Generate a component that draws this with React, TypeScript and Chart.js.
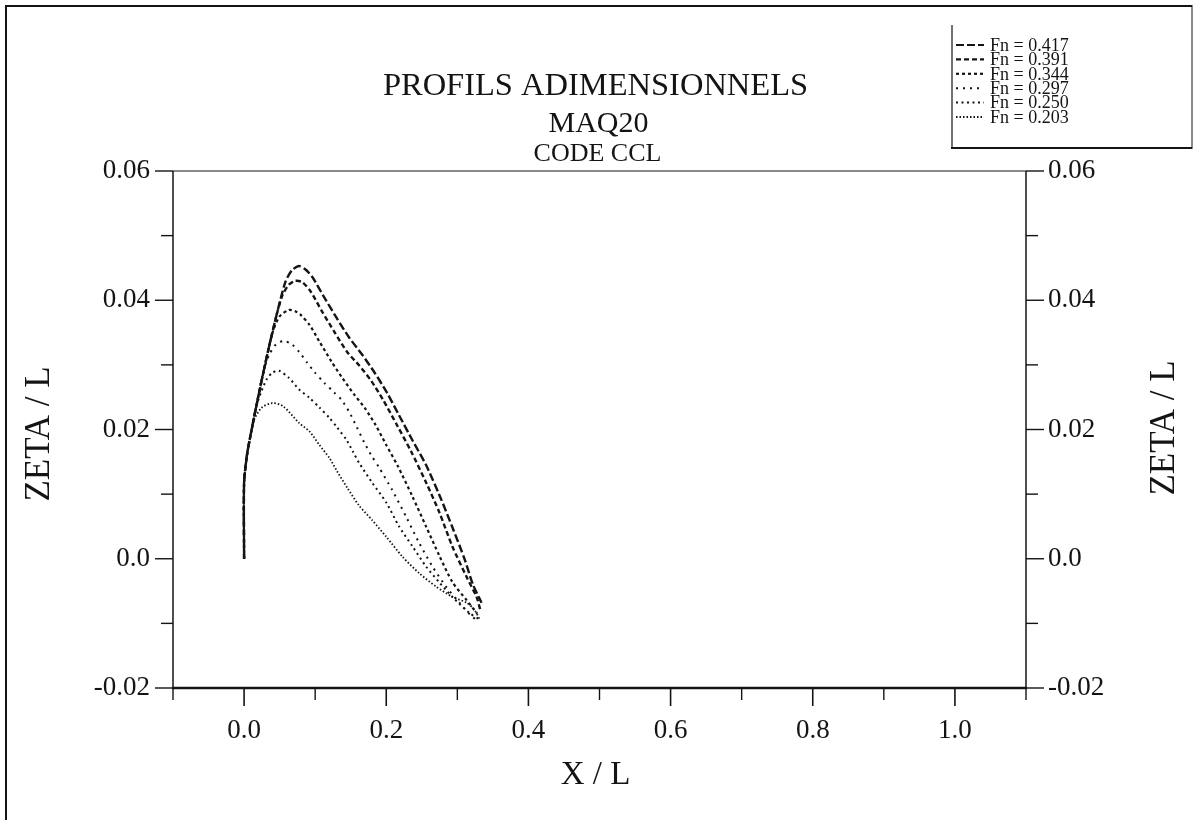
import React, { useEffect, useRef } from 'react';
import { Chart, registerables } from 'chart.js';

Chart.register(...registerables);

const W = 1196;
const H = 820;
const SERIF = '"Liberation Serif", "Times New Roman", serif';
const INK = '#141414';

// ---- texts ----
const chartTitle = 'PROFILS ADIMENSIONNELS';
const chartSubtitles = ['MAQ20', 'CODE CCL'];
const xAxisLabel = 'X / L';
const yAxisLabel = 'ZETA / L';
const seriesLabels = ['Fn = 0.417', 'Fn = 0.391', 'Fn = 0.344', 'Fn = 0.297', 'Fn = 0.250', 'Fn = 0.203'];

// ---- ticks ----
const xMajorTicks = [0, 0.2, 0.4, 0.6, 0.8, 1.0];
const xTickLabels = ['0.0', '0.2', '0.4', '0.6', '0.8', '1.0'];
const xMinorTicks = [-0.1, 0.1, 0.3, 0.5, 0.7, 0.9, 1.1];
const yMajorTicks = [-0.02, 0, 0.02, 0.04, 0.06];
const yTickLabels = ['-0.02', '0.0', '0.02', '0.04', '0.06'];
const yMinorTicks = [-0.01, 0.01, 0.03, 0.05];

// ---- series (X/L , ZETA/L) ----
const fn417X = [0, 0, 0.004, 0.008, 0.017, 0.031, 0.045, 0.058, 0.067, 0.077, 0.086, 0.096, 0.113, 0.130, 0.148, 0.166, 0.183, 0.201, 0.218, 0.237, 0.256, 0.275, 0.294, 0.310, 0.322, 0.334];
const fn417Y = [0, 0.0118, 0.0160, 0.0185, 0.0235, 0.0308, 0.0374, 0.0428, 0.0446, 0.0453, 0.0448, 0.0436, 0.0404, 0.0373, 0.0342, 0.0316, 0.0289, 0.0257, 0.0222, 0.0183, 0.0145, 0.0098, 0.0046, 0.0000, -0.0040, -0.0068];

const fn391X = [0, 0, 0.004, 0.008, 0.017, 0.031, 0.045, 0.054, 0.063, 0.072, 0.082, 0.094, 0.110, 0.127, 0.145, 0.162, 0.179, 0.196, 0.216, 0.235, 0.256, 0.275, 0.293, 0.313, 0.327, 0.332];
const fn391Y = [0, 0.0118, 0.0160, 0.0185, 0.0235, 0.0308, 0.0374, 0.0408, 0.0424, 0.0430, 0.0428, 0.0413, 0.0382, 0.0351, 0.0320, 0.0299, 0.0275, 0.0245, 0.0205, 0.0166, 0.0118, 0.0071, 0.0019, -0.0028, -0.0059, -0.0078];

const fn344X = [0, 0, 0.004, 0.008, 0.017, 0.031, 0.040, 0.050, 0.063, 0.072, 0.080, 0.092, 0.106, 0.123, 0.138, 0.155, 0.170, 0.185, 0.200, 0.216, 0.237, 0.256, 0.275, 0.293, 0.313, 0.328];
const fn344Y = [0, 0.0118, 0.0160, 0.0185, 0.0235, 0.0308, 0.0350, 0.0375, 0.0385, 0.0383, 0.0377, 0.0362, 0.0336, 0.0305, 0.0280, 0.0254, 0.0233, 0.0207, 0.0176, 0.0144, 0.0096, 0.0050, 0.0004, -0.0036, -0.0064, -0.0085];

const fn297X = [0, 0, 0.004, 0.008, 0.017, 0.026, 0.035, 0.045, 0.056, 0.067, 0.0775, 0.089, 0.099, 0.113, 0.127, 0.137, 0.148, 0.158, 0.169, 0.179, 0.190, 0.208, 0.228, 0.246, 0.265, 0.284, 0.303, 0.321, 0.330];
const fn297Y = [0, 0.0118, 0.0160, 0.0185, 0.0235, 0.0285, 0.0315, 0.0332, 0.0337, 0.0332, 0.0320, 0.0303, 0.0289, 0.0272, 0.0257, 0.0246, 0.0227, 0.0205, 0.0180, 0.0160, 0.0141, 0.0107, 0.0065, 0.0025, -0.0012, -0.0043, -0.0068, -0.0090, -0.0095];

const fn250X = [0, 0, 0.004, 0.008, 0.017, 0.024, 0.032, 0.040, 0.049, 0.063, 0.0775, 0.092, 0.106, 0.120, 0.131, 0.144, 0.153, 0.162, 0.180, 0.200, 0.218, 0.237, 0.256, 0.275, 0.293, 0.317, 0.330];
const fn250Y = [0, 0.0118, 0.0160, 0.0185, 0.0235, 0.0258, 0.0278, 0.0288, 0.0291, 0.0280, 0.0262, 0.0249, 0.0234, 0.0218, 0.0203, 0.0184, 0.0166, 0.0148, 0.0118, 0.0087, 0.0050, 0.0019, -0.0012, -0.0037, -0.0059, -0.0084, -0.0093];

const fn203X = [0, 0, 0.004, 0.008, 0.014, 0.025, 0.040, 0.055, 0.0775, 0.092, 0.106, 0.120, 0.131, 0.145, 0.162, 0.180, 0.200, 0.223, 0.246, 0.270, 0.293, 0.313, 0.324, 0.332];
const fn203Y = [0, 0.0118, 0.0160, 0.0185, 0.0215, 0.0234, 0.0241, 0.0236, 0.0210, 0.0197, 0.0176, 0.0156, 0.0135, 0.0110, 0.0082, 0.0060, 0.0034, 0.0003, -0.0022, -0.0043, -0.0059, -0.0068, -0.0079, -0.0095];

const seriesX = [fn417X, fn391X, fn344X, fn297X, fn250X, fn203X];
const seriesY = [fn417Y, fn391Y, fn344Y, fn297Y, fn250Y, fn203Y];
const seriesDash = [[8, 3], [5, 3], [3, 3], [2, 5], [2, 3.5], [1.5, 2]];
const seriesWidth = [2.4, 2.4, 2.2, 2, 2, 1.8];

function line(ctx: CanvasRenderingContext2D, x1: number, y1: number, x2: number, y2: number, w: number) {
  ctx.lineWidth = w;
  ctx.beginPath();
  ctx.moveTo(x1, y1);
  ctx.lineTo(x2, y2);
  ctx.stroke();
}

const decorPlugin = {
  id: 'decor',
  afterDraw(chart: any) {
    const ctx: CanvasRenderingContext2D = chart.ctx;
    const { left, right, top, bottom } = chart.chartArea;
    const xs = chart.scales.x;
    const ys = chart.scales.y;
    ctx.save();
    ctx.strokeStyle = INK;
    ctx.fillStyle = INK;
    ctx.setLineDash([]);
    ctx.lineCap = 'butt';

    // plot frame
    line(ctx, left, top, right, top, 1.2);
    line(ctx, left, top, left, bottom, 1.5);
    line(ctx, right, top, right, bottom, 1.5);
    line(ctx, left - 1, bottom, right + 1, bottom, 2.4);

    // x ticks (outward)
    xMajorTicks.forEach((v) => {
      const p = xs.getPixelForValue(v);
      line(ctx, p, bottom, p, bottom + 18, 1.6);
    });
    xMinorTicks.forEach((v) => {
      const p = xs.getPixelForValue(v);
      line(ctx, p, bottom, p, bottom + 12, 1.4);
    });
    // y ticks (outward both sides)
    yMajorTicks.forEach((v) => {
      const p = ys.getPixelForValue(v);
      line(ctx, left - 18, p, left, p, 1.4);
      line(ctx, right, p, right + 18, p, 1.4);
    });
    yMinorTicks.forEach((v) => {
      const p = ys.getPixelForValue(v);
      line(ctx, left - 12, p, left, p, 1.4);
      line(ctx, right, p, right + 12, p, 1.4);
    });

    // titles
    ctx.textAlign = 'center';
    ctx.textBaseline = 'alphabetic';
    const cx = (left + right) / 2;
    ctx.font = `32.5px ${SERIF}`;
    ctx.fillText(chartTitle, cx - 4, 95);
    ctx.font = `30px ${SERIF}`;
    ctx.fillText(chartSubtitles[0], cx - 1, 132);
    ctx.font = `26px ${SERIF}`;
    ctx.fillText(chartSubtitles[1], cx - 2, 161);

    // axis labels
    ctx.textBaseline = 'middle';
    ctx.font = `33px ${SERIF}`;
    ctx.fillText(xAxisLabel, cx - 4, 775);
    ctx.font = `35px ${SERIF}`;
    ctx.save();
    ctx.translate(40, 434);
    ctx.rotate(-Math.PI / 2);
    ctx.fillText(yAxisLabel, 0, 0);
    ctx.restore();
    ctx.save();
    ctx.translate(1165, 428);
    ctx.rotate(-Math.PI / 2);
    ctx.fillText(yAxisLabel, 0, 0);
    ctx.restore();

    // outer frame
    line(ctx, 6, 6, 1192, 6, 2);
    line(ctx, 6, 5, 6, H, 2);
    // legend box
    line(ctx, 952, 25, 952, 149, 1.2);
    line(ctx, 951, 148, 1192, 148, 2);
    line(ctx, 1192, 5, 1192, 149, 1);

    // legend entries
    ctx.textAlign = 'left';
    ctx.textBaseline = 'middle';
    ctx.font = `18px ${SERIF}`;
    chart.data.datasets.forEach((ds: any, i: number) => {
      const yy = 45 + i * 14.4;
      ctx.setLineDash(ds.borderDash);
      line(ctx, 956, yy, 984, yy, Math.min(ds.borderWidth, 2.2));
      ctx.setLineDash([]);
      ctx.fillText(ds.label, 990, yy + 1);
    });
    ctx.restore();
  },
};

export default function App() {
  const ref = useRef<HTMLCanvasElement | null>(null);

  useEffect(() => {
    if (!ref.current) return;
    const datasets = seriesLabels.map((label, i) => ({
      label,
      data: seriesX[i].map((x, j) => ({ x, y: seriesY[i][j] })),
      showLine: true,
      borderColor: INK,
      backgroundColor: INK,
      borderWidth: seriesWidth[i],
      borderDash: seriesDash[i],
      pointRadius: 0,
      tension: 0.25,
      fill: false,
    }));

    const chart = new Chart(ref.current, {
      type: 'scatter',
      data: { datasets },
      options: {
        responsive: false,
        maintainAspectRatio: false,
        devicePixelRatio: 1,
        animation: false,
        layout: { padding: { top: 171, left: 0, right: 0, bottom: 0 } },
        plugins: {
          legend: { display: false },
          title: { display: false },
          tooltip: { enabled: false },
        },
        scales: {
          x: {
            type: 'linear',
            position: 'bottom',
            min: -0.1,
            max: 1.1,
            afterFit: (s: any) => { s.height = H - 688; },
            afterBuildTicks: (s: any) => { s.ticks = xMajorTicks.map((v) => ({ value: v })); },
            grid: { display: false, drawTicks: false },
            border: { display: false },
            ticks: {
              padding: 27,
              color: INK,
              font: { family: SERIF, size: 27 },
              maxRotation: 0,
              autoSkip: false,
              callback: (_v: any, i: number) => xTickLabels[i],
            },
          },
          y: {
            type: 'linear',
            position: 'left',
            min: -0.02,
            max: 0.06,
            afterFit: (s: any) => { s.width = 173; },
            afterBuildTicks: (s: any) => { s.ticks = yMajorTicks.map((v) => ({ value: v })); },
            grid: { display: false, drawTicks: false },
            border: { display: false },
            ticks: {
              padding: 23,
              color: INK,
              font: { family: SERIF, size: 27 },
              autoSkip: false,
              callback: (_v: any, i: number) => yTickLabels[i],
            },
          },
          y2: {
            type: 'linear',
            position: 'right',
            min: -0.02,
            max: 0.06,
            afterFit: (s: any) => { s.width = W - 1026; },
            afterBuildTicks: (s: any) => { s.ticks = yMajorTicks.map((v) => ({ value: v })); },
            grid: { display: false, drawTicks: false },
            border: { display: false },
            ticks: {
              padding: 22,
              color: INK,
              font: { family: SERIF, size: 27 },
              autoSkip: false,
              callback: (_v: any, i: number) => yTickLabels[i],
            },
          },
        },
      },
      plugins: [decorPlugin],
    } as any);

    return () => chart.destroy();
  }, []);

  return (
    <div style={{ position: 'absolute', left: 0, top: 0, width: W, height: H, background: '#fff' }}>
      <canvas ref={ref} width={W} height={H} style={{ display: 'block', width: W, height: H }} />
    </div>
  );
}
